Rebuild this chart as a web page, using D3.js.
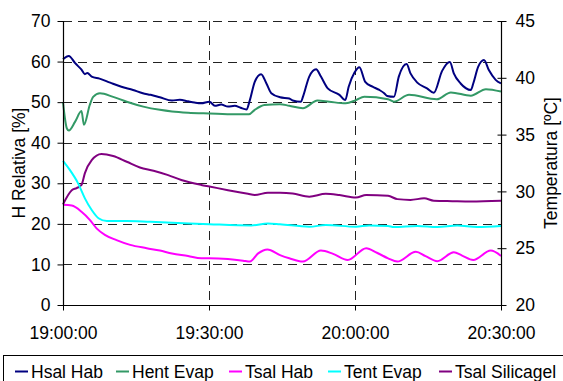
<!DOCTYPE html>
<html><head><meta charset="utf-8">
<script src="https://cdn.jsdelivr.net/npm/d3@7"></script>
<style>
html,body{margin:0;padding:0;background:#fff;}
svg{display:block;font-family:"Liberation Sans",Arial,sans-serif;}
</style></head>
<body><svg id="c" width="563" height="381"></svg>
<script>
// ---- data (minutes after 19:00:00) ----
const xTickLabels = ["19:00:00","19:30:00","20:00:00","20:30:00"];
const leftTicks = [0,10,20,30,40,50,60,70];
const rightTicks = [20,25,30,35,40,45];
const seriesNames = ["Hsal Hab","Hent Evap","Tsal Hab","Tent Evap","Tsal Silicagel"];

// Hsal Hab [%]
const hsalHabMin = [0,1.2,2.5,3.8,4.5,5.0,5.9,7.5,9.7,12,14.4,16.4,18,19.9,22.4,24,25.7,27,28.4,30.1,31.2,32.5,33.9,35.3,36.5,37.7,38.4,39.4,40.7,41.8,42.8,44.6,46.5,47.2,48.9,49.3,50.6,52,53,54.4,56.8,58,58.7,59.9,60.9,62.1,63.6,65,66,66.6,68,69,70.6,71.4,72.8,74.8,76.2,77.9,79.5,80.3,81.7,83.8,84.3,85.3,86.5,87.5,88.9,90];
const hsalHab =    [60.6,61.4,59.6,58.0,56.9,57.2,56.3,55.8,54.8,53.8,53.0,52.2,51.8,51.2,50.4,50.6,50.2,49.9,49.7,50.1,49.1,49.4,48.9,49.1,48.6,48.2,50.5,55.0,56.9,54.6,52.2,51.2,50.9,50.4,50.1,51.3,56.3,58.1,56.3,53.4,51.8,50.5,53.8,57.3,58.6,55.0,53.8,53.0,52.2,51.5,51.3,56.3,59.4,57.1,54.8,53.4,52.3,57.7,59.9,57.1,54.6,53.0,54.6,58.7,60.4,57.9,55.5,54.6];

// Hent Evap [%]
const hentEvapMin = [0,0.8,1.2,2.5,3.8,4.3,5.5,6.2,7.6,10.3,13.1,16.5,19.9,22.4,25.7,30.1,35.3,38.2,39.4,41.4,44.6,46.5,49.3,52.3,54.7,58.1,60.2,61.9,66.8,68,71.1,76.8,79.7,83.8,86.9,90];
const hentEvap =    [50.0,43.5,43.0,45.2,47.8,44.4,49.3,51.3,52.2,51.3,50.1,48.9,48.1,47.7,47.4,47.2,47.0,47.0,48.1,49.3,49.5,49.1,48.5,50.4,50.1,49.7,50.5,51.3,50.7,50.1,51.8,50.7,52.4,51.6,53.2,52.6];

// Tsal Hab [ºC]
const tsalHabMin = [0,1.8,3.8,5.5,6.9,8.6,11,13.8,17.2,19.9,22.4,25.7,28.4,30.1,33.9,37,38.4,40.1,42,44.6,46.5,49.3,53,55.5,58.5,62.3,64.5,66.8,68.7,72.5,74.5,76.9,80.3,82,84.3,87.9,90];
const tsalHab =    [28.82,28.75,28.21,27.50,26.75,26.18,25.71,25.29,25.00,24.79,24.54,24.32,24.11,24.11,24.04,23.90,23.82,24.54,24.89,24.39,24.11,23.82,24.79,24.50,23.96,25.00,24.60,24.11,23.82,24.68,24.30,23.86,24.64,24.35,23.96,24.79,24.32];

// Tent Evap [ºC]
const tentEvapMin = [0,1.4,3.1,4.5,5.9,7.3,9,13.1,17.9,22.4,30.1,38.7,42.1,44.6,50.6,54,60.2,62.9,66.8,68,72.8,76.9,81,85.1,90];
const tentEvap =    [32.68,31.89,30.71,29.39,28.36,27.64,27.39,27.39,27.32,27.25,27.11,27.00,27.18,27.11,26.89,27.04,26.89,27.00,26.96,26.86,26.96,26.86,27.00,26.86,26.96];

// Tsal Silicagel [ºC]
const tsalSilMin = [0,1.8,2.8,3.8,4.5,5.9,7.9,10.3,13.1,15.8,18.6,21.6,24.3,28.4,30.1,33.9,38,39.4,42.1,44.6,47.2,50.6,54,56.8,60.2,62.3,66.8,68.7,71.4,74.2,76.2,80,83.8,90];
const tsalSil =    [28.86,30.11,30.29,30.57,31.61,32.75,33.29,33.11,32.61,32.11,31.82,31.43,31.00,30.57,30.43,30.11,29.79,29.68,29.89,29.89,29.82,29.54,29.79,29.68,29.46,29.68,29.61,29.32,29.25,29.39,29.18,29.14,29.11,29.18];

const colors = ["#000080","#339966","#FF00FF","#00FFFF","#800080"];

// ---- layout ----
const svg = d3.select("#c");
const L = 63, R = 501, T = 21, B = 305;
const t0 = new Date(2000,0,1,19,0,0);
const toDate = m => new Date(t0.getTime() + m*60000);

const x = d3.scaleTime().domain([t0, toDate(90)]).range([L, R]);
const yL = d3.scaleLinear().domain([0,70]).range([B, T]);
const yR = d3.scaleLinear().domain([20,45]).range([B, T]);

// gridlines
const grid = svg.append("g");
grid.selectAll("line.h").data(leftTicks.filter(d=>d>0)).join("line")
  .attr("x1", L).attr("x2", R)
  .attr("y1", d=>Math.round(yL(d))+0.5).attr("y2", d=>Math.round(yL(d))+0.5)
  .attr("stroke", "#222").attr("stroke-dasharray", "9,6");
const xTickDates = xTickLabels.map((s,i)=>toDate(i*30));
grid.selectAll("line.v").data(xTickDates.slice(1,3)).join("line")
  .attr("x1", d=>Math.round(x(d))+0.5).attr("x2", d=>Math.round(x(d))+0.5)
  .attr("y1", T).attr("y2", B)
  .attr("stroke", "#222").attr("stroke-dasharray", "9,6");

// series
const mk = (mins, vals, scale) => mins.map((m,i)=>({t:toDate(m), v:vals[i], s:scale}));
const data = [
  mk(hsalHabMin, hsalHab, yL),
  mk(hentEvapMin, hentEvap, yL),
  mk(tsalHabMin, tsalHab, yR),
  mk(tentEvapMin, tentEvap, yR),
  mk(tsalSilMin, tsalSil, yR)
];
const line = d3.line().x(d=>x(d.t)).y(d=>d.s(d.v)).curve(d3.curveMonotoneX);
const order = [4,3,2,1,0];
order.forEach(i=>{
  svg.append("path").attr("d", line(data[i])).attr("fill","none")
    .attr("stroke", colors[i]).attr("stroke-width", 2).attr("stroke-linejoin","round");
});

// axes
const fs = "17.5px";
const axL = svg.append("g").attr("transform", `translate(${L+0.5},0)`)
  .call(d3.axisLeft(yL).tickValues(leftTicks).tickSize(6).tickPadding(7));
const axR = svg.append("g").attr("transform", `translate(${R+0.5},0)`)
  .call(d3.axisRight(yR).tickValues(rightTicks).tickSize(5).tickPadding(9));
axR.selectAll(".tick line").attr("x1", -4);
const axB = svg.append("g").attr("transform", `translate(0,${B+0.5})`)
  .call(d3.axisBottom(x).tickValues(xTickDates).tickFormat((d,i)=>xTickLabels[i]).tickSize(5).tickPadding(16));
[axL, axR, axB].forEach(a=>{
  a.selectAll("path.domain").attr("stroke","#000").attr("stroke-width",1.2);
  a.selectAll(".tick line").attr("stroke","#000");
  a.selectAll("text").attr("font-size", fs).attr("fill","#000").attr("font-family",'"Liberation Sans",Arial,sans-serif');
});
axL.select("path.domain").attr("d", `M0,${T}V${B}`);
axR.select("path.domain").attr("d", `M0,${T}V${B}`);
axB.select("path.domain").attr("d", `M${L},0H${R}`);

// axis titles
svg.append("text").attr("transform", `translate(19,${(T+B)/2}) rotate(-90)`)
  .attr("text-anchor","middle").attr("dominant-baseline","central")
  .attr("font-size","17.5px").text("H Relativa [%]");
svg.append("text").attr("transform", `translate(551,${(T+B)/2}) rotate(-90)`)
  .attr("text-anchor","middle").attr("dominant-baseline","central")
  .attr("font-size","17.5px").text("Temperatura [ºC]");

// legend
const lg = svg.append("g");
lg.append("rect").attr("x",3.5).attr("y",355.5).attr("width",620).attr("height",40)
  .attr("fill","#fff").attr("stroke","#000");
const itemX = [15,116,229,328,439];
seriesNames.forEach((n,i)=>{
  lg.append("line").attr("x1",itemX[i]).attr("x2",itemX[i]+13)
    .attr("y1",371.5).attr("y2",371.5).attr("stroke",colors[i]).attr("stroke-width",2);
  lg.append("text").attr("x",itemX[i]+16).attr("y",377.5)
    .attr("font-size","17.5px").text(n);
});
</script></body></html>
